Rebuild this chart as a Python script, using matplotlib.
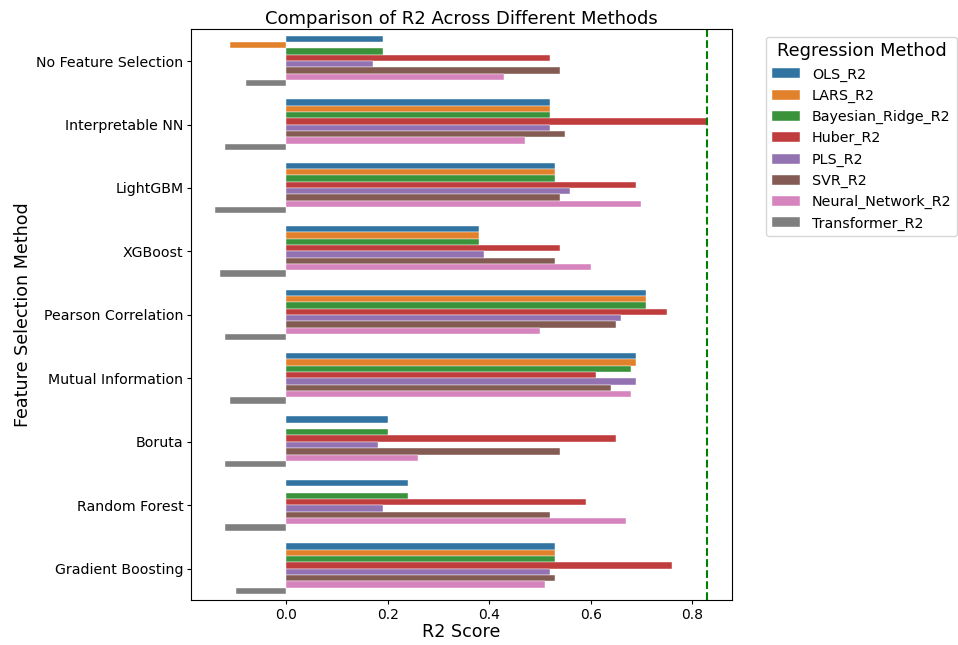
import numpy as np
import matplotlib
matplotlib.use("Agg")
import matplotlib.pyplot as plt

categories = ["No Feature Selection", "Interpretable NN", "LightGBM", "XGBoost",
              "Pearson Correlation", "Mutual Information", "Boruta", "Random Forest",
              "Gradient Boosting"]
methods = ["OLS_R2", "LARS_R2", "Bayesian_Ridge_R2", "Huber_R2", "PLS_R2",
           "SVR_R2", "Neural_Network_R2", "Transformer_R2"]

ols_r2 = [0.19, 0.52, 0.53, 0.38, 0.71, 0.69, 0.20, 0.24, 0.53]
lars_r2 = [-0.11, 0.52, 0.53, 0.38, 0.71, 0.69, np.nan, np.nan, 0.53]
bayesian_ridge_r2 = [0.19, 0.52, 0.53, 0.38, 0.71, 0.68, 0.20, 0.24, 0.53]
huber_r2 = [0.52, 0.83, 0.69, 0.54, 0.75, 0.61, 0.65, 0.59, 0.76]
pls_r2 = [0.17, 0.52, 0.56, 0.39, 0.66, 0.69, 0.18, 0.19, 0.52]
svr_r2 = [0.54, 0.55, 0.54, 0.53, 0.65, 0.64, 0.54, 0.52, 0.53]
neural_network_r2 = [0.43, 0.47, 0.70, 0.60, 0.50, 0.68, 0.26, 0.67, 0.51]
transformer_r2 = [-0.08, -0.12, -0.14, -0.13, -0.12, -0.11, -0.12, -0.12, -0.10]

series = [ols_r2, lars_r2, bayesian_ridge_r2, huber_r2, pls_r2, svr_r2,
          neural_network_r2, transformer_r2]
colors = ["#3274A1", "#E1812C", "#3A923A", "#C03D3E", "#9372B2", "#845B53",
          "#D684BD", "#7F7F7F"]

fig = plt.figure(figsize=(9.58, 6.45), dpi=100)
ax = fig.add_axes([0.199, 0.069, 0.565, 0.8855])

n = len(methods)
group_h = 0.8
bar_h = group_h / n
y = np.arange(len(categories))
for i, (name, vals, c) in enumerate(zip(methods, series, colors)):
    offs = -group_h / 2 + bar_h * (i + 0.5)
    ax.barh(y + offs, vals, height=bar_h, color=c, label=name,
            edgecolor="white", linewidth=0.3)

best = np.nanmax(np.array(series, dtype=float))
ax.axvline(best, color="green", linestyle="--", linewidth=1.5)

ax.set_yticks(y)
ax.set_yticklabels(categories, fontsize=10.2)
ax.set_ylim(len(categories) - 0.5, -0.5)
ax.tick_params(axis="both", length=2.6, pad=2.6)
ax.tick_params(axis="x", labelsize=10)
ax.set_xlabel("R2 Score", fontsize=12.6, labelpad=1)
ax.set_ylabel("Feature Selection Method", fontsize=12.6, labelpad=3)
ax.set_title("Comparison of R2 Across Different Methods", fontsize=13, pad=4)

leg = ax.legend(title="Regression Method", bbox_to_anchor=(1.05, 1), loc="upper left",
                fontsize=10.3, title_fontsize=12.8)

fig.savefig("out.png", dpi=100)
